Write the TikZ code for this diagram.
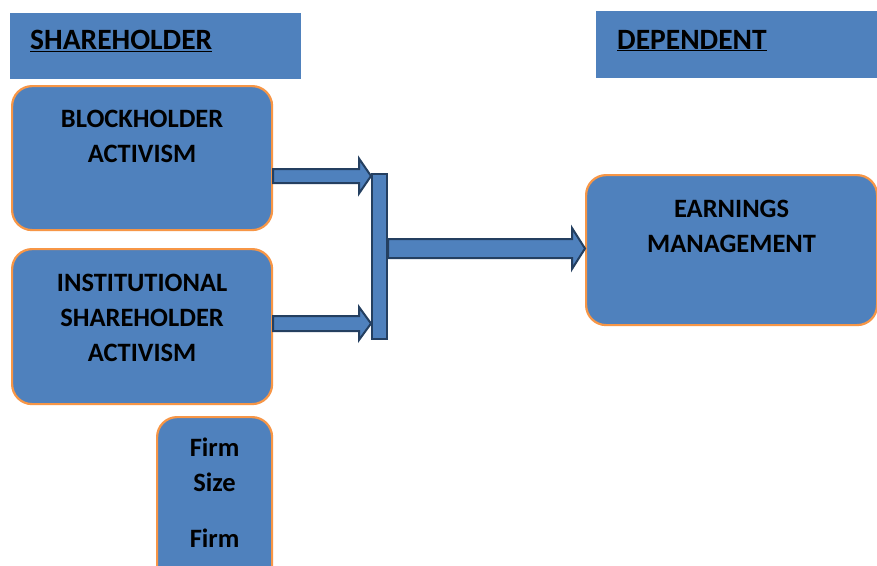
\documentclass[tikz,border=0pt]{standalone}
\usepackage{fontspec}
\setmainfont{Carlito}
\usetikzlibrary{positioning,calc}
\definecolor{panelblue}{HTML}{4F81BD}
\definecolor{paneledge}{HTML}{F79646}
\definecolor{arrowedge}{HTML}{243F60}
\tikzset{
  header/.style={fill=panelblue, anchor=north west, inner sep=0pt},
  headtext/.style={font=\bfseries\fontsize{29.5}{35}\selectfont, inner sep=0pt, anchor=base west},
  panel/.style={draw=paneledge, line width=2.2pt, fill=panelblue, rounded corners=20pt, anchor=north west, inner sep=0pt},
  paneltext/.style={align=center, font=\bfseries\fontsize{26.5}{35}\selectfont, inner sep=0pt},
  joinbar/.style={draw=arrowedge, line width=2pt, fill=panelblue, anchor=north west, inner sep=0pt},
  blockarrow/.style={draw=arrowedge, line width=2pt, fill=panelblue, line join=miter}
}
\newcommand{\blockarrow}[5]{%
  \draw[blockarrow] ($(#1)+(0,-#3)$) -- ($(#2)+(-#5,-#3)$) -- ($(#2)+(-#5,-#4)$) -- (#2)
    -- ($(#2)+(-#5,#4)$) -- ($(#2)+(-#5,#3)$) -- ($(#1)+(0,#3)$) -- cycle;}

\begin{document}
\begin{tikzpicture}[x=1pt, y=-1pt]
\clip (0,0) rectangle (877,565);
\fill[white] (0,0) rectangle (877,565);
\node[header, minimum width=291pt, minimum height=66pt] (shhead) at (10,13) {};
\node[headtext] (shtext) at (30,49.5) {\underline{SHAREHOLDER}};
\node[header, minimum width=290pt, minimum height=67pt] (dephead) at (596,11) {};
\node[headtext] (deptext) at (617,49) {\underline{DEPENDENT}};
\node[panel, minimum width=260pt, minimum height=144pt] (block) at (11,85) {};
\node[paneltext, anchor=north, below=25pt of block.north] (blocktext) {BLOCKHOLDER\\ACTIVISM};
\node[panel, minimum width=260pt, minimum height=155pt] (inst) at (11,248) {};
\node[paneltext, anchor=north, below=26pt of inst.north] (insttext) {INSTITUTIONAL\\SHAREHOLDER\\ACTIVISM};
\node[panel, minimum width=115pt, minimum height=200pt] (firm) at (156,416) {};
\node[paneltext, anchor=north, below=22pt of firm.north] (firmtext) {Firm\\Size\\[21pt]Firm};
\node[panel, minimum width=291pt, minimum height=150pt] (earn) at (585,174) {};
\node[paneltext, anchor=north, below=26pt of earn.north] (earntext) {EARNINGS\\MANAGEMENT};
\node[joinbar, minimum width=15pt, minimum height=165pt] (bar) at (371,173) {};
\coordinate (a1s) at (block.east |- 0,176);
\coordinate (a1e) at (bar.west |- 0,176);
\coordinate (a2s) at (inst.east |- 0,323.5);
\coordinate (a2e) at (bar.west |- 0,323.5);
\coordinate (a3s) at (bar.east |- 0,248.5);
\coordinate (a3e) at (earn.west |- 0,248.5);
\blockarrow{a1s}{a1e}{7}{17.5}{12}
\blockarrow{a2s}{a2e}{7.5}{16.5}{12}
\blockarrow{a3s}{a3e}{9.5}{20.5}{13}
\end{tikzpicture}
\end{document}
